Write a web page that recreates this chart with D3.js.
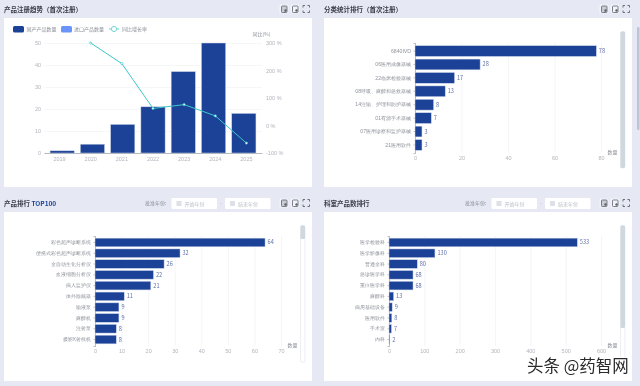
<!DOCTYPE html>
<html lang="zh">
<head>
<meta charset="UTF-8">
<title>产品注册统计</title>
<script src="https://d3js.org/d3.v7.min.js"></script>
<style>
    html, body { margin: 0; padding: 0; background: #fff; overflow: hidden; }
    svg { display: block; font-family: "Noto Sans CJK SC", "Noto Sans", sans-serif; filter: blur(0.35px); }
    .tick text { fill: #b0b4bb; font-size: 5.5px; }
    .cat .tick text { fill: #8f939b; font-size: 5.15px; }
    .title { font-size: 6.5px; font-weight: 700; fill: #3a3d45; }
    .small { font-size: 5px; fill: #8b8f98; }
    .value { font-size: 5.6px; fill: #5f70a8; }
</style>
</head>
<body>
<svg id="chart" width="640" height="386"></svg>
<script>
// 产品注册趋势
const trendYears = ["2019", "2020", "2021", "2022", "2023", "2024", "2025"];
const trendCounts = [1, 4, 13, 21, 37, 50, 18];
const trendGrowth = [null, 300, 225, 62, 76, 35, -64];
const trendLeftTicks = [0, 10, 20, 30, 40, 50];
const trendRightTicks = [-100, 0, 100, 200, 300];

// 分类统计排行
const classNames = ["6840IVD", "06医用成像器械", "22临床检验器械", "08呼吸、麻醉和急救器械", "14注输、护理和防护器械", "01有源手术器械", "07医用诊察和监护器械", "21医用软件"];
const classCounts = [78, 28, 17, 13, 8, 7, 3, 3];

// 产品排行 TOP100
const productNames = ["彩色超声诊断系统", "便携式彩色超声诊断系统", "全自动生化分析仪", "血液细胞分析仪", "病人监护仪", "体外除颤器", "输液泵", "麻醉机", "注射泵", "摄影X射线机"];
const productCounts = [64, 32, 26, 22, 21, 11, 9, 9, 8, 8];

// 科室产品数排行
const deptNames = ["医学检验科", "医学影像科", "普通全科", "急诊医学科", "重症医学科", "麻醉科", "病房基础设备", "医用软件", "手术室", "内科"];
const deptCounts = [533, 130, 80, 68, 68, 13, 9, 8, 7, 2];

const barColor = "#1c4297";
const svg = d3.select("#chart");

svg.append("rect").attr("width", 640).attr("height", 386).attr("fill", "#e6e9f4");

function panel(x, y, w, h, title) {
    svg.append("rect").attr("x", x).attr("y", y).attr("width", w).attr("height", h).attr("fill", "#fff");
    const t = svg.append("text").attr("class", "title").attr("x", x).attr("y", y - 6.5).text(title);
    // toolbar icons
    [0, 11].forEach(d => {
        svg.append("rect").attr("x", x + 275.5 + d).attr("y", y - 13.5).attr("width", 9).attr("height", 9)
            .attr("rx", 1.5).attr("fill", "#f3f4f9");
        svg.append("rect").attr("x", x + 277.5 + d).attr("y", y - 12).attr("width", 5.5).attr("height", 6.5)
            .attr("rx", 0.8).attr("fill", d === 0 ? "#c9ccd3" : "none").attr("stroke", "#5d626c").attr("stroke-width", 0.8);
        svg.append("circle").attr("cx", x + 281.5 + d).attr("cy", y - 7.5).attr("r", 1.2).attr("fill", "#5d626c");
    });
    svg.append("path")
        .attr("d", `M${x+299} ${y-10.5}v-2h2M${x+303.5} ${y-12.5}h2v2M${x+299} ${y-7.5}v2h2M${x+303.5} ${y-5.5}h2v-2`)
        .attr("fill", "none").attr("stroke", "#5d626c").attr("stroke-width", 0.9);
    return t;
}

function datePickers(x, y) {
    svg.append("text").attr("class", "small").attr("x", x + 141).attr("y", y - 7).text("批准年份:");
    [[x + 167.5, "开始年份"], [x + 221, "结束年份"]].forEach(([bx, label]) => {
        svg.append("rect").attr("x", bx).attr("y", y - 14).attr("width", 45.5).attr("height", 11).attr("rx", 1).attr("fill", "#fff");
        svg.append("rect").attr("x", bx + 5).attr("y", y - 11).attr("width", 5).attr("height", 5).attr("fill", "#dfe1e6");
        svg.append("text").attr("class", "small").attr("x", bx + 13).attr("y", y - 6.5).style("fill", "#bcc0c7").text(label);
    });
    svg.append("text").attr("class", "small").attr("x", x + 216).attr("y", y - 7).text("-");
}

// horizontal ranking bars
function rankChart(o) {
    const x = d3.scaleLinear().domain([0, o.max]).range([o.left, o.right]);
    const y = d3.scaleBand().domain(o.names).range([o.top, o.bottom]).padding(0.2);

    svg.append("g").attr("transform", `translate(0,${o.bottom})`)
        .call(d3.axisBottom(x).ticks(o.tickCount).tickSize(o.bottom - o.top).tickSizeOuter(0).tickPadding(3))
        .call(g => g.select(".domain").remove())
        .call(g => g.selectAll(".tick line").attr("y1", 0).attr("y2", o.top - o.bottom).attr("stroke", "#eef0f4").attr("stroke-width", 0.7))
        .call(g => g.selectAll(".tick text").attr("y", 5).attr("dy", "0.4em"));

    svg.append("g").attr("class", "cat").attr("transform", `translate(${o.left},0)`)
        .call(d3.axisLeft(y).tickSize(1.5).tickPadding(2.5))
        .call(g => g.select(".domain").attr("stroke", "#9aa0ac").attr("stroke-width", 0.7))
        .call(g => g.selectAll(".tick line").attr("stroke", "#9aa0ac").attr("stroke-width", 0.7));

    svg.append("g").selectAll("rect").data(o.values).join("rect")
        .attr("x", o.left)
        .attr("y", (d, i) => y(o.names[i]))
        .attr("width", d => x(d) - o.left)
        .attr("height", y.bandwidth())
        .attr("fill", barColor)
        .attr("stroke", "#c9d3ea").attr("stroke-width", 0.5);

    svg.append("g").selectAll("text").data(o.values).join("text")
        .attr("class", "value")
        .attr("x", d => x(d) + 2.5)
        .attr("y", (d, i) => y(o.names[i]) + y.bandwidth() / 2 + 2)
        .text(d => d);

    svg.append("text").attr("class", "small").attr("x", o.unitX).attr("y", o.bottom + 1).attr("text-anchor", "middle").text("数量");

    // data zoom slider
    svg.append("rect").attr("x", o.sliderX).attr("y", o.sliderTop).attr("width", 4.5).attr("height", o.sliderBottom - o.sliderTop)
        .attr("rx", 1.5).attr("fill", "#fff").attr("stroke", "#dfe3e8").attr("stroke-width", 0.6);
    svg.append("rect").attr("x", o.sliderX).attr("y", o.sliderTop).attr("width", 4.5).attr("height", o.handleBottom - o.sliderTop)
        .attr("rx", 1.5).attr("fill", "#cfd8de");
}

// 产品注册趋势
panel(4, 18, 308, 169, "产品注册趋势\uFF08首次注册\uFF09");
{
    const x = d3.scaleBand().domain(trendYears).range([44, 262]).padding(0.2);
    const xOuter = d3.scaleBand().domain(trendYears).range([44, 262]);
    const yL = d3.scaleLinear().domain([0, 50]).range([153, 43]);
    const yR = d3.scaleLinear().domain([-100, 300]).range([153, 43]);

    svg.append("g").attr("transform", "translate(44,0)")
        .call(d3.axisLeft(yL).tickValues(trendLeftTicks).tickSize(-218).tickPadding(3))
        .call(g => g.select(".domain").remove())
        .call(g => g.selectAll(".tick line").attr("stroke", "#f0f2f5").attr("stroke-width", 0.7));

    svg.append("g").attr("transform", "translate(262,0)")
        .call(d3.axisRight(yR).tickValues(trendRightTicks).tickSize(0).tickPadding(4).tickFormat(d => d + " %"))
        .call(g => g.select(".domain").remove());

    svg.append("g").selectAll("rect").data(trendCounts).join("rect")
        .attr("x", (d, i) => x(trendYears[i]))
        .attr("y", d => yL(d))
        .attr("width", x.bandwidth())
        .attr("height", d => 153 - yL(d))
        .attr("fill", barColor)
        .attr("stroke", "#c9d3ea").attr("stroke-width", 0.5);

    svg.append("g").attr("transform", "translate(0,153)")
        .call(d3.axisBottom(xOuter).tickSize(0).tickPadding(4))
        .call(g => g.select(".domain").attr("stroke", "#9aa0ac").attr("stroke-width", 0.7));

    const line = d3.line()
        .defined(d => d !== null)
        .x((d, i) => xOuter(trendYears[i]) + xOuter.bandwidth() / 2)
        .y(d => yR(d));
    svg.append("path").attr("d", line(trendGrowth)).attr("fill", "none").attr("stroke", "#3cc8c8").attr("stroke-width", 1);
    svg.append("g").selectAll("circle").data(trendGrowth).join("circle")
        .filter(d => d !== null)
        .attr("cx", d => xOuter(trendYears[trendGrowth.indexOf(d)]) + xOuter.bandwidth() / 2)
        .attr("cy", d => yR(d))
        .attr("r", 1.1).attr("fill", "#fff").attr("stroke", "#3cc8c8").attr("stroke-width", 0.7);

    // legend
    svg.append("rect").attr("x", 13).attr("y", 26).attr("width", 11).attr("height", 6.5).attr("rx", 1.5).attr("fill", barColor);
    svg.append("text").attr("class", "small").attr("x", 26.5).attr("y", 31).text("国产产品数量");
    svg.append("rect").attr("x", 61).attr("y", 26).attr("width", 11).attr("height", 6.5).attr("rx", 1.5).attr("fill", "#6a94fb");
    svg.append("text").attr("class", "small").attr("x", 74).attr("y", 31).text("进口产品数量");
    svg.append("line").attr("x1", 109).attr("x2", 119).attr("y1", 29).attr("y2", 29).attr("stroke", "#3cc8c8").attr("stroke-width", 0.8);
    svg.append("circle").attr("cx", 114).attr("cy", 29).attr("r", 2.6).attr("fill", "#fff").attr("stroke", "#3cc8c8").attr("stroke-width", 0.7);
    svg.append("text").attr("class", "small").attr("x", 122).attr("y", 31).text("同比增长率");
    svg.append("text").attr("class", "small").attr("x", 252.5).attr("y", 35.5).text("同比(%)");
}

// 分类统计排行
panel(324, 18, 308, 169, "分类统计排行\uFF08首次注册\uFF09");
rankChart({ names: classNames, values: classCounts, max: 80, tickCount: 4, left: 415, right: 601, top: 43, bottom: 153, unitX: 612.5, sliderX: 620.5, sliderTop: 31.5, sliderBottom: 168, handleBottom: 168 });

// 产品排行
panel(4, 212, 308, 169, "").call(t => {
    t.append("tspan").text("产品排行 ");
    t.append("tspan").style("fill", "#1c4297").text("TOP100");
});
datePickers(4, 212);
rankChart({ names: productNames, values: productCounts, max: 70, tickCount: 7, left: 95, right: 281, top: 236, bottom: 346, unitX: 292.5, sliderX: 300.5, sliderTop: 225.5, sliderBottom: 362, handleBottom: 239 });

// 科室产品数排行
panel(324, 212, 308, 169, "科室产品数排行");
datePickers(324, 212);
rankChart({ names: deptNames, values: deptCounts, max: 600, tickCount: 6, left: 389, right: 601, top: 236, bottom: 346, unitX: 612.5, sliderX: 620.5, sliderTop: 225.5, sliderBottom: 362, handleBottom: 328 });

// page scrollbar
svg.append("rect").attr("x", 637).attr("y", 27).attr("width", 2.5).attr("height", 103).attr("rx", 1).attr("fill", "#bcc4d6");

// watermark
svg.append("text").attr("x", 527).attr("y", 372).attr("font-size", 16.5)
    .attr("fill", "#2a2a2a").attr("stroke", "#fff").attr("stroke-width", 2.5).attr("paint-order", "stroke")
    .text("头条 @药智网");
</script>
</body>
</html>
